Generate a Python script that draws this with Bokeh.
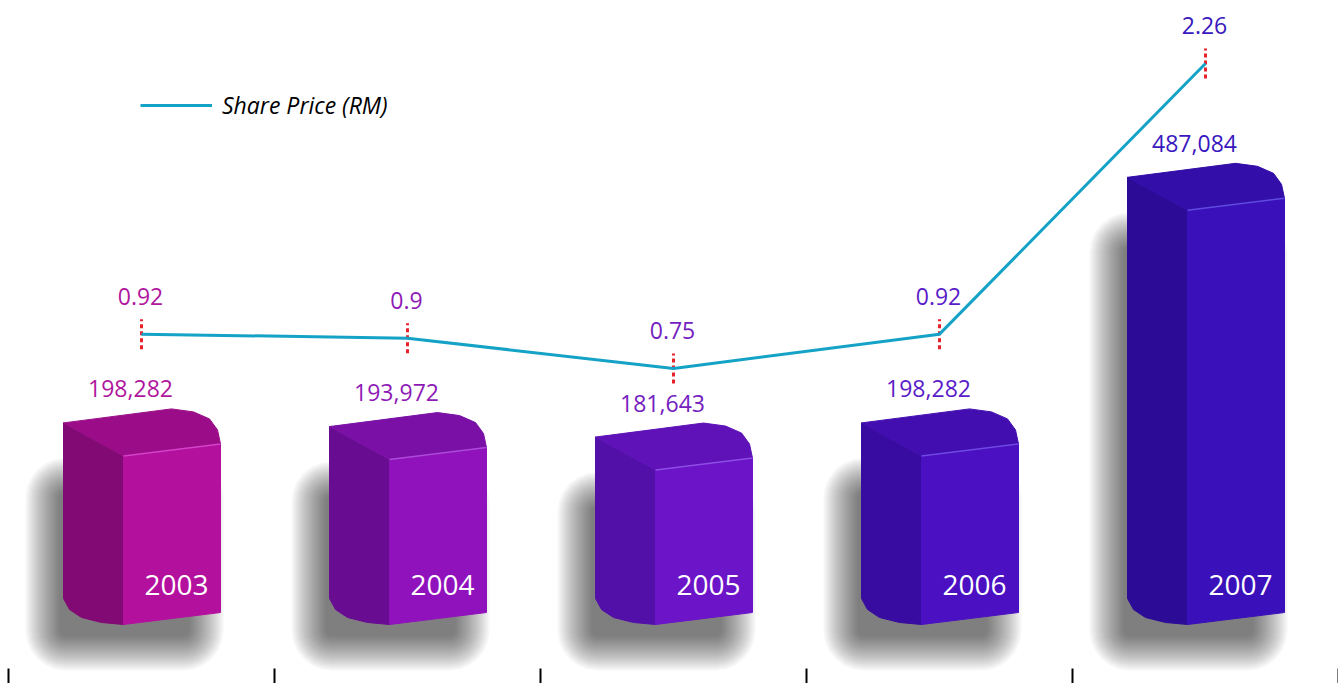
import math
from bokeh.plotting import figure
from bokeh.models import Range1d, Legend, LegendItem
from bokeh.core.properties import value
from bokeh.embed import file_html
from bokeh.resources import INLINE

# ---------------- data ----------------
years = ["2003", "2004", "2005", "2006", "2007"]
revenue = [198282, 193972, 181643, 198282, 487084]
revenue_labels = ["198,282", "193,972", "181,643", "198,282", "487,084"]
share_price = [0.92, 0.90, 0.75, 0.92, 2.26]
price_labels = ["0.92", "0.9", "0.75", "0.92", "2.26"]

front_colors = ["#B4109E", "#9012BC", "#6C14C8", "#4A10C2", "#3A10BA"]
side_colors = ["#820A74", "#680C92", "#5210A8", "#380CA0", "#2C0C96"]
top_colors = ["#9A0C88", "#7A10A6", "#5E12B8", "#420EB0", "#340EA8"]
edge_colors = ["#E050D8", "#BA58E6", "#9A5CF0", "#7A58EE", "#6A5AF0"]
label_colors = ["#B0169E", "#8E1AB6", "#7420C0", "#5A1CC8", "#3A18C0"]

W, H = 1338, 683
# scales (data units per pixel)
XU = 1.0 / 266
BASE_PX = 618
YU = 1176.0
SU = 1.0 / 202
y_start = -(H - BASE_PX) * YU
y_end = BASE_PX * YU
p_start = 0.75 - (H - 368) * SU
p_end = 0.75 + 368 * SU

p = figure(width=W, height=H, x_range=Range1d(-8 * XU, (W - 8) * XU),
           y_range=Range1d(y_start, y_end), x_axis_type=None, y_axis_type=None,
           toolbar_location=None, output_backend="svg", min_border=0,
           outline_line_color=None, background_fill_color="white",
           border_fill_color="white")
p.extra_y_ranges = {"price": Range1d(p_start, p_end)}

n = len(years)
cxs = [i + 0.5 for i in range(n)]


# ---------------- soft shadows ----------------
def rounded_rect(left, right, top, bottom, r):
    """left/right/top/bottom in data units; r in pixels."""
    rx, ry = r * XU, r * YU
    xs, ys = [], []
    corners = [(right - rx, top - ry, 0), (left + rx, top - ry, 90),
               (left + rx, bottom + ry, 180), (right - rx, bottom + ry, 270)]
    for (ccx, ccy, a0) in corners:
        for j in range(7):
            a = math.radians(a0 + j * 15)
            xs.append(ccx + rx * math.cos(a))
            ys.append(ccy + ry * math.sin(a))
    return xs, ys


LAYERS = 18
for k in range(LAYERS):
    inset = k * 2.0
    sx, sy = [], []
    for c, v in zip(cxs, revenue):
        xs, ys = rounded_rect(c + (-116 + inset) * XU, c + (82 - inset) * XU,
                              v - (8 + inset) * YU, -(52 - inset) * YU,
                              max(40 - inset, 4))
        sx.append(xs); sy.append(ys)
    p.patches(sx, sy, fill_color="black", fill_alpha=0.036, line_color=None)


# ---------------- 3D bars ----------------
def pt(c, dx, base, dy):
    return c + dx * XU, base - dy * YU


front_xs, front_ys, side_xs, side_ys, top_xs, top_ys = [], [], [], [], [], []
ex0, ey0, ex1, ey1 = [], [], [], []
for c, v in zip(cxs, revenue):
    pts = [pt(c, -18, v, 6), pt(c, 79, v, -6), pt(c, 79, 0, -6), pt(c, -18, 0, 6)]
    front_xs.append([q[0] for q in pts]); front_ys.append([q[1] for q in pts])
    pts = [pt(c, -78, v, -27), pt(c, -18, v, 6), pt(c, -18, 0, 6), pt(c, -40, 0, 4),
           pt(c, -60, 0, -1), pt(c, -72, 0, -9), pt(c, -78, 0, -20)]
    side_xs.append([q[0] for q in pts]); side_ys.append([q[1] for q in pts])
    pts = [pt(c, -78, v, -27), pt(c, 30, v, -41), pt(c, 52, v, -38), pt(c, 68, v, -31),
           pt(c, 76, v, -20), pt(c, 79, v, -6), pt(c, -18, v, 6)]
    top_xs.append([q[0] for q in pts]); top_ys.append([q[1] for q in pts])
    a = pt(c, -18, v, 6); b = pt(c, 79, v, -6)
    ex0.append(a[0]); ey0.append(a[1]); ex1.append(b[0]); ey1.append(b[1])

p.patches(side_xs, side_ys, fill_color=side_colors, line_color=side_colors, line_width=1)
p.patches(front_xs, front_ys, fill_color=front_colors, line_color=front_colors, line_width=1)
p.patches(top_xs, top_ys, fill_color=top_colors, line_color=top_colors, line_width=1)
p.segment(ex0, ey0, ex1, ey1, line_color=edge_colors, line_width=1.5, line_alpha=0.8)

# ---------------- labels ----------------
FONT = value("Open Sans")
p.text(x=[c - 11 * XU for c in cxs], y=[v + 61 * YU for v in revenue], text=revenue_labels,
       text_color=label_colors, text_font=FONT, text_font_size="23px",
       text_align="center", text_baseline="middle")
p.text(x=[c + 35 * XU for c in cxs], y=[34 * YU for _ in revenue], text=years,
       text_color="white", text_font=FONT, text_font_size="28px",
       text_align="center", text_baseline="middle")

# ---------------- share price line ----------------
p.segment(x0=cxs, y0=[s - 15 * SU for s in share_price], x1=cxs,
          y1=[s + 15 * SU for s in share_price], y_range_name="price",
          line_color="#E8222A", line_width=3, line_dash="4 3")
line_r = p.line(cxs, share_price, y_range_name="price", line_color="#14A2C6", line_width=3)
p.text(x=[c - 1 * XU for c in cxs], y=[s + 38 * SU for s in share_price], text=price_labels,
       y_range_name="price", text_color=label_colors, text_font=FONT,
       text_font_size="23px", text_align="center", text_baseline="middle")

# ---------------- bottom tick marks ----------------
bounds = list(range(n + 1))
p.segment(x0=bounds, y0=[y_start] * (n + 1), x1=bounds, y1=[y_start + 15 * YU] * (n + 1),
          line_color="black", line_width=2)

# ---------------- legend ----------------
legend = Legend(items=[LegendItem(label="Share Price (RM)", renderers=[line_r])],
                location=(140, 562), glyph_width=72, glyph_height=20, label_height=20,
                padding=0, margin=0, spacing=0, label_standoff=10,
                border_line_color=None, background_fill_alpha=0,
                label_text_font="Open Sans", label_text_font_style="italic",
                label_text_font_size="23px", label_text_color="black")
p.add_layout(legend, "center")

open("out.html", "w").write(file_html(p, INLINE))
